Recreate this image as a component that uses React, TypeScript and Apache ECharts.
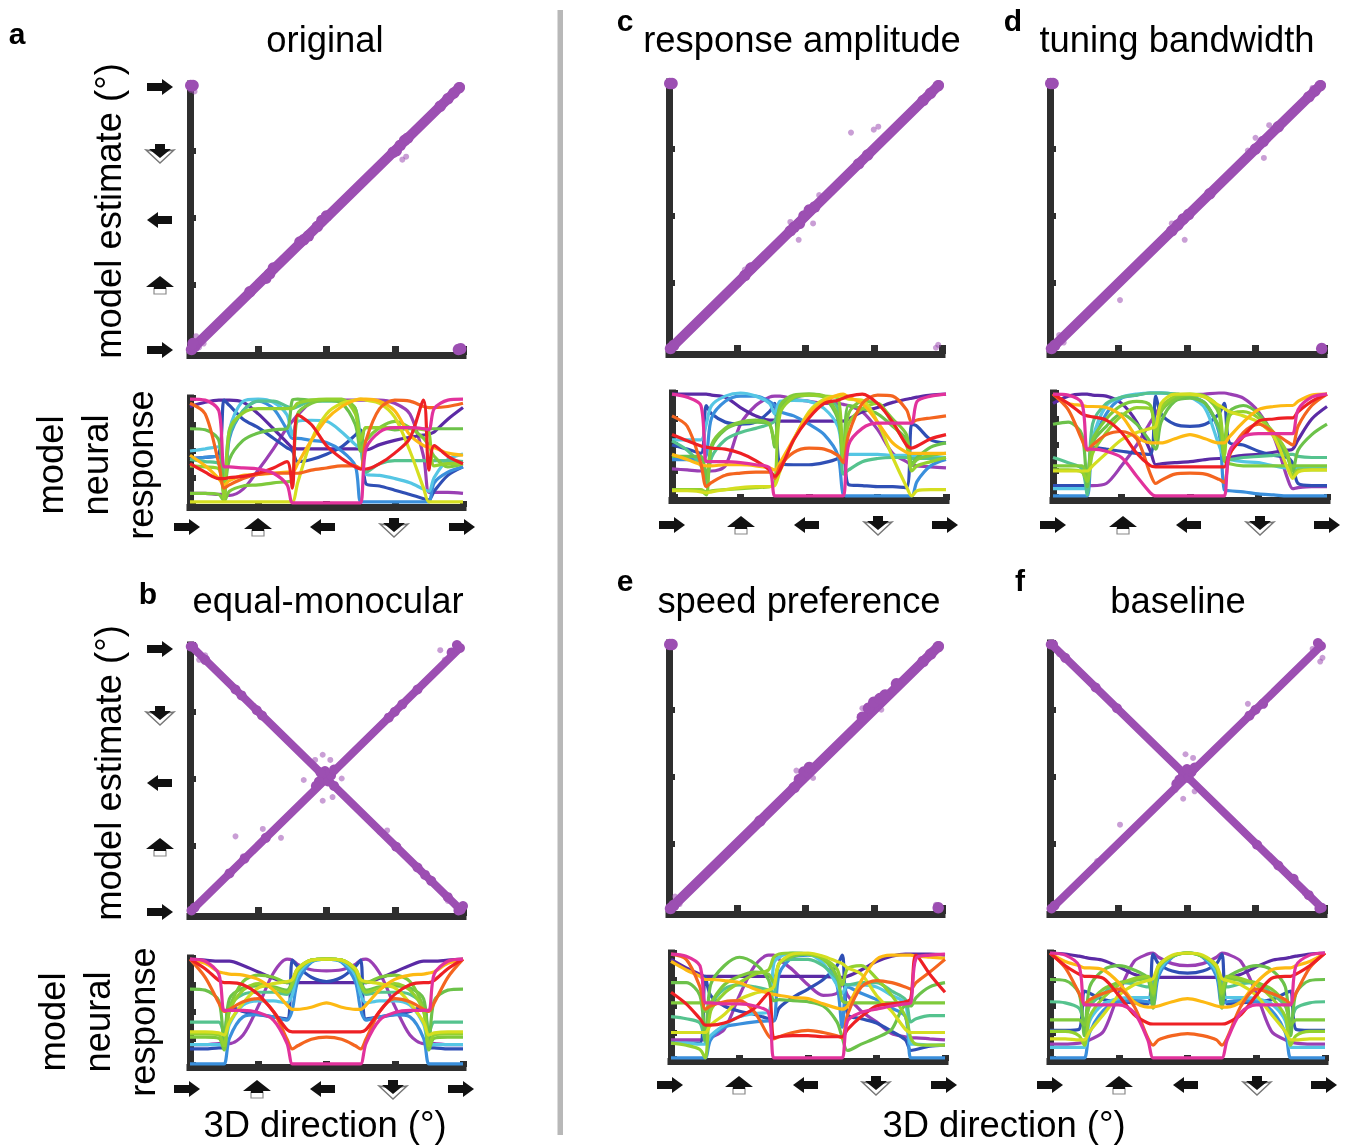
import React, { useEffect, useRef } from "react";
import * as echarts from "echarts";

const xGrid = [0,20,38,45,52,70,90,110,128,135,142,160,180,200,218,225,232,250,270,290,308,315,322,340,360];
const lineColors = ["#9a3fb4","#5b2aa5","#2f4fb5","#3a8fdc","#55c6e4","#55c38e","#6cc24a","#7fca3c","#93d12f","#d5de20","#fdb913","#f4651f","#ee2024","#e2329c"];

const respA = [
[10,10,9,9,8,14,32,52,72,78,84,96,98,98,98,98,98,98,95,85,45,11,11,11,10],
[92,96,98,98,98,96,85,71,58,53,52,52,52,52,52,52,51,56,60,63,65,66,68,80,91],
[43,44,47,98,93,80,72,62,53,50,40,42,47,54,65,70,19,17,13,9,5,4,12,27,35],
[42,44,45,10,62,88,97,90,70,62,62,60,58,50,36,2,2,2,2,2,2,2,20,30,35],
[50,52,54,20,70,97,99,96,84,65,78,79,78,68,56,52,28,27,24,20,14,12,25,42,47],
[42,40,38,8,65,88,97,97,92,90,92,97,97,97,90,60,30,38,41,41,41,40,41,41,40],
[71,70,60,10,42,60,67,70,71,98,99,98,98,95,75,50,72,72,70,71,71,71,71,71,71],
[10,10,9,3,12,17,18,20,21,22,85,95,98,98,90,50,60,72,78,72,62,55,45,35,38],
[36,35,33,5,70,86,90,90,90,90,95,98,99,99,85,60,72,72,72,72,70,68,36,38,38],
[2,2,2,2,2,2,2,2,2,2,20,60,85,95,98,99,98,95,82,50,15,2,2,2,2],
[46,36,24,18,22,27,28,29,30,30,38,60,80,92,98,99,99,97,88,65,55,54,53,48,46],
[95,85,38,15,18,24,28,29,29,29,29,32,34,36,36,33,60,90,98,97,92,91,91,92,95],
[38,30,24,24,25,26,29,34,40,15,84,75,55,43,35,33,33,38,48,62,98,32,55,45,38],
[99,98,88,35,35,34,33,29,18,1,1,1,1,1,1,1,52,68,72,72,71,70,90,98,99],
];
const respB = [
[19,19,20,20,20,28,55,86,99,98,94,89,88,89,94,98,99,86,55,28,20,20,20,19,19],
[99,98,97,97,97,93,87,81,77,77,77,77,77,77,77,77,77,81,87,93,97,97,97,98,99],
[15,15,16,16,55,50,47,45,43,98,92,82,78,82,92,98,43,45,47,50,55,16,16,15,15],
[1,1,1,1,25,45,47,45,42,52,78,96,99,96,78,52,42,45,47,45,25,1,1,1,1],
[19,19,19,19,38,56,60,60,58,66,84,97,99,97,84,66,58,60,60,56,38,19,19,19,19],
[40,40,40,30,55,66,68,68,66,74,88,98,99,98,88,74,66,68,68,66,55,30,40,40,40],
[71,70,60,20,62,72,74,73,70,78,89,98,99,98,89,78,70,73,74,72,62,20,60,70,71],
[26,26,25,14,52,78,84,82,77,80,90,98,99,98,90,80,77,82,84,78,52,14,25,26,26],
[29,29,28,18,50,70,76,72,68,76,88,98,99,98,88,76,68,72,76,70,50,18,28,29,29],
[31,31,30,28,40,58,72,76,78,80,90,98,99,98,90,80,78,76,72,58,40,28,30,31,31],
[99,95,87,86,85,84,80,70,56,52,52,54,58,54,52,52,56,70,80,84,85,86,87,95,99],
[99,82,58,50,52,59,62,50,24,15,18,24,26,24,18,15,24,50,62,59,52,50,58,82,99],
[99,90,79,77,77,75,66,50,33,31,31,31,31,31,31,31,33,50,66,75,77,77,79,90,99],
[99,97,85,51,51,51,49,42,20,1,1,1,1,1,1,1,20,42,49,51,51,51,85,97,99],
];
const respC = [
[27,26,25,25,25,30,70,88,96,97,97,94,92,90,90,89,88,82,65,42,34,31,30,29,28],
[99,99,99,99,98,96,86,78,74,74,73,73,73,73,73,73,75,82,86,91,94,95,96,98,99],
[50,46,42,88,80,72,70,72,82,90,32,31,31,33,37,42,12,11,10,10,9,70,68,55,52],
[36,36,36,40,76,92,97,97,92,88,82,78,70,60,40,2,1,1,1,1,1,1,15,30,36],
[55,55,55,70,88,97,100,97,90,80,92,93,92,85,68,42,41,41,41,40,40,39,39,38,38],
[54,45,30,12,38,55,62,66,70,73,85,95,98,96,85,22,26,34,37,38,38,37,37,37,37],
[39,39,39,18,48,65,71,72,70,48,85,97,99,96,75,40,88,85,80,68,55,32,38,48,52],
[7,7,6,2,50,66,72,74,70,50,88,98,99,97,78,38,80,92,90,75,60,30,36,40,42],
[7,7,7,5,6,7,8,9,10,12,80,96,98,97,95,35,70,85,90,70,50,25,30,34,38],
[6,6,5,4,5,7,9,10,10,11,25,55,82,94,97,96,94,93,72,38,10,1,6,7,7],
[41,36,31,30,30,31,31,30,28,26,33,56,80,92,98,99,96,90,72,52,43,42,42,42,42],
[78,68,32,10,14,21,23,24,24,18,30,43,47,46,40,33,60,90,98,97,84,72,74,76,78],
[60,54,49,48,47,46,42,35,26,20,26,55,76,90,93,95,97,99,90,72,50,47,49,56,60],
[99,96,88,34,34,34,33,31,28,1,1,1,1,1,1,1,50,66,71,71,71,71,92,97,99],
];
const respD = [
[11,11,11,11,11,13,30,50,72,80,88,95,98,99,100,100,99,95,82,58,18,8,9,10,10],
[90,97,99,99,98,97,90,72,44,31,32,33,34,36,37,37,38,40,41,43,45,46,55,75,87],
[11,11,11,12,48,46,44,42,41,97,80,70,68,70,80,90,52,50,44,40,38,32,13,11,11],
[1,1,1,1,50,80,95,98,100,100,100,99,97,90,62,7,6,5,3,2,1,1,1,1,1],
[8,8,8,10,55,88,96,99,100,100,100,99,96,85,50,38,36,34,33,30,28,28,28,28,28],
[38,33,27,2,70,90,96,98,100,100,100,99,97,90,65,38,36,38,39,40,41,41,39,38,38],
[70,72,60,10,52,68,80,70,53,46,72,92,95,90,68,55,82,88,80,60,38,25,45,60,70],
[30,30,30,20,55,75,88,92,88,60,82,94,98,96,80,35,32,30,30,30,30,30,30,30,30],
[26,26,24,15,42,62,78,86,85,55,85,97,99,97,85,40,78,82,76,62,42,20,26,26,26],
[25,25,25,25,30,42,55,62,66,68,90,99,99,96,88,85,82,78,72,58,28,18,24,26,26],
[99,90,88,87,87,86,78,58,52,52,52,56,60,56,52,52,58,72,84,87,88,88,92,98,99],
[99,84,55,45,50,60,63,56,22,13,16,22,23,22,17,14,40,62,70,62,53,50,68,88,99],
[99,90,80,78,77,74,62,42,30,29,29,29,29,29,29,29,42,58,73,75,76,76,82,92,99],
[99,98,90,46,46,44,38,20,4,1,1,1,1,1,1,1,44,58,61,61,61,61,84,96,99],
];
const respE = [
[18,18,18,18,20,28,60,88,98,98,94,84,70,60,62,72,60,45,35,24,21,20,20,19,18],
[94,86,80,78,78,78,78,78,78,78,78,78,78,78,77,77,78,84,92,97,99,99,99,99,98],
[15,15,15,78,60,50,45,42,38,36,48,58,66,75,88,98,42,38,34,26,18,8,9,12,13],
[1,1,1,1,18,30,33,35,36,36,80,96,98,96,70,30,68,62,56,48,40,1,1,1,1],
[15,15,14,14,22,32,40,43,44,90,96,100,99,90,70,62,70,70,68,60,52,14,14,13,13],
[40,38,34,16,50,66,70,68,65,62,90,94,94,88,76,72,70,72,72,64,56,35,38,41,41],
[72,72,60,18,70,88,96,90,75,55,56,55,54,50,35,20,8,14,20,28,50,50,58,68,72],
[53,53,53,45,53,70,78,82,80,72,90,97,99,94,78,55,53,53,53,53,53,53,53,53,53],
[15,13,9,1,45,62,72,80,84,96,99,100,99,95,85,70,85,88,76,60,40,20,14,13,13],
[25,25,25,25,32,42,56,62,65,68,90,99,100,97,92,90,86,80,60,45,28,25,25,25,25],
[92,84,78,75,75,74,72,66,62,61,60,58,57,52,48,47,50,74,94,98,98,98,97,96,95],
[99,94,68,47,50,54,55,44,22,19,21,25,27,25,22,20,42,68,74,72,68,66,72,82,94],
[63,52,38,32,32,34,40,48,62,20,21,22,22,21,21,21,28,40,50,52,54,57,98,80,63],
[99,97,88,53,53,52,52,50,44,1,1,1,1,1,1,1,36,44,47,50,52,53,95,98,99],
];
const respF = [
[14,14,15,16,18,26,62,92,99,100,96,90,88,90,96,100,99,92,62,26,18,16,15,14,14],
[100,99,97,96,95,93,87,80,77,77,77,77,77,77,77,77,77,80,87,93,95,96,97,99,100],
[27,27,28,64,62,56,54,53,52,99,90,83,81,83,90,99,52,53,54,56,62,64,28,27,27],
[1,1,1,1,25,46,54,55,54,52,78,96,100,96,78,52,54,55,54,46,25,1,1,1,1],
[11,11,11,11,36,52,57,58,58,60,82,97,100,97,82,60,58,58,57,52,36,11,11,11,11],
[54,53,48,35,50,62,72,71,68,70,86,97,100,97,86,70,68,71,72,62,50,35,48,53,54],
[75,74,62,22,68,84,88,84,76,48,88,97,100,97,88,48,76,84,88,84,68,22,62,74,75],
[37,37,37,32,52,66,72,74,76,60,88,97,100,97,88,60,76,74,72,66,52,32,37,37,37],
[26,26,22,13,40,58,70,76,78,62,86,97,100,97,86,62,78,76,70,58,40,13,22,26,26],
[19,19,18,18,26,42,60,70,74,76,88,98,100,98,88,76,74,70,60,42,26,18,18,19,19],
[100,92,88,86,86,84,72,54,49,49,50,54,57,54,50,49,49,54,72,84,86,86,88,92,100],
[100,86,62,52,56,62,66,50,20,13,18,22,24,22,18,13,20,50,66,62,56,52,62,86,100],
[100,88,80,78,78,76,60,42,34,33,33,33,33,33,33,33,34,42,60,76,78,78,80,88,100],
[100,98,88,51,51,51,51,44,18,1,1,1,1,1,1,1,18,44,51,51,51,51,88,98,100],
];

const bandRising = [[3,3],[356,356]];
const bandFalling = [[3,357],[357,3]];

const dotsA = [[1,358],[4,358],[357,3],[354,2],[2,2],[6,6],[4,10],[277,277],[272,270],[283,284],[268,268],[287,287],[174,176],[168,168],[180,182],[150,150],[156,155],[145,147],[105,104],[110,112],[100,98],[79,80],[355,355],[340,340],[348,348],[330,330]];
const faintA = [[8,20],[12,5],[18,10],[280,258],[285,262],[1,352],[6,350]];
const dotsB = [[1,358],[4,358],[357,3],[354,2],[360,8],[2,2],[6,6],[356,356],[352,360],[175,182],[182,176],[170,176],[186,184],[178,190],[166,170],[190,192],[172,188],[190,170],[60,300],[68,292],[88,272],[95,265],[272,88],[300,60],[310,50],[318,42],[52,52],[72,72],[100,100],[280,280],[262,262],[270,270],[300,300],[20,340],[340,20],[345,350]];
const faintB = [[60,102],[175,212],[185,205],[165,205],[195,195],[200,180],[150,178],[20,346],[330,353],[336,340],[345,350],[12,340],[8,5],[350,8],[335,25],[340,15],[96,112],[120,100],[260,110],[250,108],[70,75],[175,150],[188,155]];
const dotsC = [[1,358],[4,358],[2,2],[6,6],[178,180],[172,170],[185,188],[165,165],[160,160],[192,192],[100,100],[108,110],[355,355],[345,345],[335,335],[250,250],[262,262]];
const faintC = [[240,292],[270,296],[276,300],[198,208],[152,154],[171,148],[100,108],[355,7],[352,3],[190,170],[160,172],[92,88]];
const dotsD = [[1,358],[4,358],[357,2],[2,2],[6,6],[175,176],[168,168],[182,182],[160,160],[355,355],[348,348],[340,340],[270,270],[280,280],[300,300],[210,210]];
const faintD = [[92,67],[177,148],[281,258],[288,302],[12,20],[18,10],[270,285],[260,268],[160,170],[345,352]];
const dotsE = [[1,358],[4,358],[355,3],[2,2],[6,6],[178,186],[172,176],[185,192],[165,165],[263,272],[270,280],[278,285],[255,260],[355,355],[345,345],[335,335],[120,120],[285,290],[300,305]];
const faintE = [[168,188],[190,178],[280,270],[255,272],[8,18],[14,8],[352,7]];
const dotsF = [[1,358],[4,358],[357,3],[354,2],[2,2],[6,6],[356,356],[352,360],[175,183],[182,178],[170,176],[186,186],[180,190],[166,170],[190,192],[270,270],[262,262],[280,278],[60,300],[88,272],[272,88],[300,60],[20,340],[340,20],[320,42]];
const faintF = [[92,115],[178,210],[188,205],[165,162],[190,160],[175,150],[355,335],[358,340],[345,352],[12,345],[22,340],[8,5],[335,22],[345,15],[260,278],[270,268],[62,66]];

const panelTitles = ["original","equal-monocular","response amplitude","tuning bandwidth","speed preference","baseline"];
const panelLetters = ["a","b","c","d","e","f"];
const axisTitleDirection = "3D direction (°)";
const axisTitleEstimate = "model estimate (°)";
const axisTitleResponse = ["model","neural","response"];

const PURPLE = "#9c4fb2";
const AXIS = "#2e2e2e";
const FONT = "Liberation Sans";

type Box = { l: number; r: number; t: number; b: number; ax: number };
const panels = [
  { title: 0, tx: 325, ty: 39, lx: 17, ly: 33, sc: { l: 190, r: 463, t: 84, b: 351, ax: 355 } as Box, re: { l: 190, r: 463, t: 398, b: 504, ax: 507 } as Box, resp: respA, cross: false, dots: dotsA, faint: faintA, arrowX: [187,258,323,394,462], arrowY: 527 },
  { title: 1, tx: 328, ty: 600, lx: 148, ly: 593, sc: { l: 190, r: 463, t: 645, b: 912, ax: 916 } as Box, re: { l: 190, r: 463, t: 958, b: 1065, ax: 1067 } as Box, resp: respB, cross: true, dots: dotsB, faint: faintB, arrowX: [187,257,323,393,461], arrowY: 1089 },
  { title: 2, tx: 802, ty: 39, lx: 625, ly: 20, sc: { l: 669, r: 942, t: 82, b: 350, ax: 354 } as Box, re: { l: 672, r: 946, t: 393, b: 497, ax: 500 } as Box, resp: respC, cross: false, dots: dotsC, faint: faintC, arrowX: [672,741,807,878,945], arrowY: 525 },
  { title: 3, tx: 1177, ty: 39, lx: 1013, ly: 20, sc: { l: 1050, r: 1324, t: 82, b: 350, ax: 354 } as Box, re: { l: 1053, r: 1327, t: 393, b: 497, ax: 500 } as Box, resp: respD, cross: false, dots: dotsD, faint: faintD, arrowX: [1053,1123,1189,1260,1327], arrowY: 525 },
  { title: 4, tx: 799, ty: 600, lx: 625, ly: 580, sc: { l: 669, r: 942, t: 643, b: 910, ax: 914 } as Box, re: { l: 671, r: 945, t: 953, b: 1059, ax: 1061 } as Box, resp: respE, cross: false, dots: dotsE, faint: faintE, arrowX: [670,739,806,876,944], arrowY: 1085 },
  { title: 5, tx: 1178, ty: 600, lx: 1020, ly: 580, sc: { l: 1050, r: 1324, t: 643, b: 910, ax: 914 } as Box, re: { l: 1050, r: 1325, t: 953, b: 1059, ax: 1061 } as Box, resp: respF, cross: true, dots: dotsF, faint: faintF, arrowX: [1050,1119,1186,1257,1324], arrowY: 1085 },
];

const INK = "#111111";
function arrow(kind: string, x: number, y: number) {
  const poly = (points: number[][], style: any = { fill: INK }) => ({ type: "polygon", shape: { points }, style, silent: true });
  const children: any[] = [];
  if (kind === "right") children.push(poly([[-13,-4],[2,-4],[2,-8],[13,0],[2,8],[2,4],[-13,4]]));
  if (kind === "left") children.push(poly([[12,-4],[-2,-4],[-2,-8],[-13,0],[-2,8],[-2,4],[12,4]]));
  if (kind === "up") {
    children.push({ type: "rect", shape: { x: -6, y: 3, width: 12, height: 6 }, style: { fill: "#fff", stroke: "#8a8a8a", lineWidth: 1.2 } });
    children.push(poly([[0,-9],[14,2],[6,2],[6,4],[-6,4],[-6,2],[-14,2]]));
  }
  if (kind === "down") {
    children.push(poly([[-14,-3],[0,-1],[14,-3],[0,10]], { fill: "#fff", stroke: "#777", lineWidth: 1.4 }));
    children.push(poly([[-5,-9],[5,-9],[5,-4],[11,-4],[0,5],[-11,-4],[-5,-4]]));
  }
  return { type: "group", x, y, children };
}
const arrowKinds = ["right","up","left","down","right"];

function label(text: string, x: number, y: number, size = 36.4, weight = "normal", rotation = 0) {
  return {
    type: "text", x, y, rotation, silent: true,
    style: { text, fill: "#000000", fontSize: size, fontWeight: weight, fontFamily: FONT, align: "center", verticalAlign: "middle" },
  };
}

function buildOption() {
  const grid: any[] = [], xAxis: any[] = [], yAxis: any[] = [], series: any[] = [], graphic: any[] = [];

  const addGrid = (b: Box, yMax: number, yInt: number, tickLen: number) => {
    const idx = grid.length;
    grid.push({ left: b.l, width: b.r - b.l, top: b.t, height: b.b - b.t, containLabel: false });
    xAxis.push({
      gridIndex: idx, type: "value", min: 0, max: 360, interval: 90, offset: b.ax - b.b,
      axisLine: { show: true, onZero: false, lineStyle: { color: AXIS, width: 7, cap: "square" } },
      axisTick: { show: true, inside: true, length: tickLen, lineStyle: { color: AXIS, width: 7 } },
      axisLabel: { show: false }, splitLine: { show: false },
    });
    yAxis.push({
      gridIndex: idx, type: "value", min: 0, max: yMax, interval: yInt,
      axisLine: { show: true, onZero: false, lineStyle: { color: AXIS, width: 7, cap: "square" } },
      axisTick: { show: true, inside: true, length: 6, lineStyle: { color: AXIS, width: 6 } },
      axisLabel: { show: false }, splitLine: { show: false },
    });
    return idx;
  };

  panels.forEach((p) => {
    const s = addGrid(p.sc, 360, 90, 9);
    const bands = p.cross ? [bandRising, bandFalling] : [bandRising];
    bands.forEach((data) => series.push({
      type: "line", xAxisIndex: s, yAxisIndex: s, data, showSymbol: false, symbol: "none", clip: false,
      lineStyle: { color: PURPLE, width: p.cross ? 8 : 10, cap: "round" }, z: 3,
    }));
    series.push({ type: "scatter", xAxisIndex: s, yAxisIndex: s, data: p.dots, symbolSize: p.cross ? 10 : 11.5, clip: false, itemStyle: { color: PURPLE, opacity: 1 }, z: 4 });
    series.push({ type: "scatter", xAxisIndex: s, yAxisIndex: s, data: p.faint, symbolSize: 6, clip: false, itemStyle: { color: PURPLE, opacity: 0.55 }, z: 4 });

    const r = addGrid(p.re, 100, 25, 6);
    p.resp.forEach((vals, i) => series.push({
      type: "line", xAxisIndex: r, yAxisIndex: r, data: xGrid.map((x, k) => [x, vals[k]]),
      showSymbol: false, symbol: "none", clip: false, smooth: 0.3,
      lineStyle: { color: lineColors[i], width: 3.2 }, z: 3 + i * 0.01,
    }));

    graphic.push(label(panelTitles[p.title], p.tx, p.ty));
    graphic.push(label(panelLetters[p.title], p.lx, p.ly, 30, "bold"));
    p.arrowX.forEach((x, i) => graphic.push(arrow(arrowKinds[i], x, p.arrowY)));
  });

  [[87,153,220,285,350],[649,715,783,847,912]].forEach((ys) => {
    ["right","down","left","up","right"].forEach((k, i) => graphic.push(arrow(k, 160, ys[i])));
  });

  graphic.push(label(axisTitleEstimate, 108, 211, 36.4, "normal", Math.PI / 2));
  graphic.push(label(axisTitleEstimate, 108, 773, 36.4, "normal", Math.PI / 2));
  [[50,465],[95,465],[140,465]].forEach(([x, y], i) => graphic.push(label(axisTitleResponse[i], x, y, 36.4, "normal", Math.PI / 2)));
  [[52,1022],[97,1022],[142,1022]].forEach(([x, y], i) => graphic.push(label(axisTitleResponse[i], x, y, 36.4, "normal", Math.PI / 2)));
  graphic.push(label(axisTitleDirection, 325, 1124));
  graphic.push(label(axisTitleDirection, 1004, 1124));
  graphic.push({ type: "rect", shape: { x: 557.5, y: 10, width: 5.5, height: 1125 }, style: { fill: "#b8b8b8" }, silent: true });

  return { animation: false, backgroundColor: "#ffffff", grid, xAxis, yAxis, series, graphic, tooltip: { show: false } };
}

export default function App() {
  const ref = useRef<HTMLDivElement>(null);
  useEffect(() => {
    if (!ref.current) return;
    const chart = echarts.init(ref.current, undefined, { renderer: "svg" });
    chart.setOption(buildOption() as any);
    return () => chart.dispose();
  }, []);
  return <div ref={ref} style={{ position: "absolute", left: 0, top: 0, width: 1351, height: 1147, filter: "blur(0.55px)" }} />;
}
